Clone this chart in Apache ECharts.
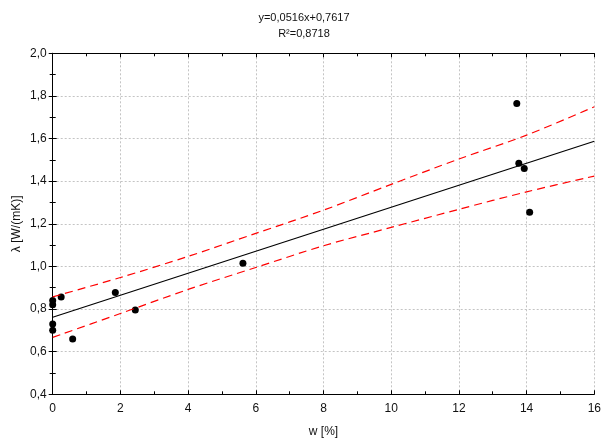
<!DOCTYPE html>
<html>
<head>
<meta charset="utf-8">
<script src="https://cdn.jsdelivr.net/npm/echarts@6/dist/echarts.min.js"></script>
<style>
  html, body { margin: 0; padding: 0; background: #fff; }
  #chart { width: 601px; height: 438px; }
</style>
</head>
<body>
<div id="chart"></div>
<script>
// measured points
var wValues = [0, 0, 0, 0, 0.25, 0.59, 1.85, 2.44, 5.62, 13.71, 13.77, 13.93, 14.09];
var lambdaValues = [0.84, 0.82, 0.73, 0.70, 0.857, 0.659, 0.878, 0.795, 1.015, 1.765, 1.484, 1.46, 1.254];

// fitted line end points (y=0,0516x+0,7617)
var fitX = [0, 16];
var fitY = [0.7617, 1.5873];

// confidence band
var bandX = [0, 2, 4, 6, 8, 10, 12, 14, 16];
var upperBand = [0.857, 0.948, 1.047, 1.155, 1.264, 1.385, 1.504, 1.616, 1.749];
var lowerBand = [0.667, 0.779, 0.892, 0.995, 1.097, 1.183, 1.268, 1.350, 1.424];

var xTicks = [0, 2, 4, 6, 8, 10, 12, 14, 16];
var yTicks = [0.4, 0.6, 0.8, 1.0, 1.2, 1.4, 1.6, 1.8, 2.0];

function pairs(xs, ys) {
    var out = [];
    for (var i = 0; i < xs.length; i++) out.push([xs[i], ys[i]]);
    return out;
}

var chart = echarts.init(document.getElementById('chart'));
var font = 'Liberation Sans, Arial, sans-serif';

var tickStyle = { show: true, inside: true, length: 4, lineStyle: { color: '#000' } };
var minorStyle = { show: true, splitNumber: 2, length: 3, lineStyle: { color: '#000' } };
var gridStyle = { show: true, lineStyle: { color: '#c4c4c4', type: [2, 2], width: 1 } };

var option = {
    animation: false,
    backgroundColor: '#fff',
    title: {
        text: 'y=0,0516x+0,7617\nR²=0,8718',
        left: 299,
        top: 5,
        textAlign: 'center',
        textStyle: { fontFamily: font, fontSize: 11, fontWeight: 'normal', color: '#111', lineHeight: 16, align: 'center' }
    },
    grid: { left: 52.7, right: 6.7, top: 53.3, bottom: 43.7, outerBoundsMode: 'none', containLabel: false },
    xAxis: [
        {
            type: 'value', min: xTicks[0], max: xTicks[xTicks.length - 1], interval: 2,
            name: 'w [%]', nameLocation: 'middle', nameGap: 31,
            nameTextStyle: { fontFamily: font, fontSize: 12, color: '#111' },
            axisLine: { show: true, lineStyle: { color: '#000', width: 1 } },
            axisTick: tickStyle, minorTick: minorStyle,
            axisLabel: { fontFamily: font, fontSize: 12, color: '#111', margin: 8 },
            splitLine: gridStyle
        },
        {
            type: 'value', position: 'top', min: 0, max: 16, interval: 2,
            axisLine: { show: true, lineStyle: { color: '#000', width: 1 } },
            axisTick: tickStyle, minorTick: minorStyle,
            axisLabel: { show: false }, splitLine: { show: false }
        }
    ],
    yAxis: [
        {
            type: 'value', min: yTicks[0], max: yTicks[yTicks.length - 1], interval: 0.2,
            name: 'λ [W/(mK)]', nameLocation: 'middle', nameGap: 30, nameMoveOverlap: false,
            nameTextStyle: { fontFamily: font, fontSize: 12, color: '#111' },
            axisLine: { show: true, lineStyle: { color: '#000', width: 1 } },
            axisTick: tickStyle, minorTick: minorStyle,
            axisLabel: {
                fontFamily: font, fontSize: 12, color: '#111', margin: 6,
                formatter: function (v) { return v.toFixed(1).replace('.', ','); }
            },
            splitLine: gridStyle
        },
        {
            type: 'value', position: 'right', min: 0.4, max: 2.0, interval: 0.2,
            axisLine: { show: true, lineStyle: { color: '#000', width: 1 } },
            axisTick: tickStyle, minorTick: minorStyle,
            axisLabel: { show: false }, splitLine: { show: false }
        }
    ],
    series: [
        {
            type: 'line', data: pairs(bandX, upperBand), smooth: 0.3,
            symbol: 'none', lineStyle: { color: '#ff0000', width: 1.2, type: [8, 5] }
        },
        {
            type: 'line', data: pairs(bandX, lowerBand), smooth: 0.3,
            symbol: 'none', lineStyle: { color: '#ff0000', width: 1.2, type: [8, 5] }
        },
        {
            type: 'line', data: pairs(fitX, fitY),
            symbol: 'none', lineStyle: { color: '#000', width: 1.2 }
        },
        {
            type: 'scatter', data: pairs(wValues, lambdaValues),
            symbolSize: 7, itemStyle: { color: '#000', opacity: 1 }
        }
    ]
};
chart.setOption(option);
</script>
</body>
</html>
